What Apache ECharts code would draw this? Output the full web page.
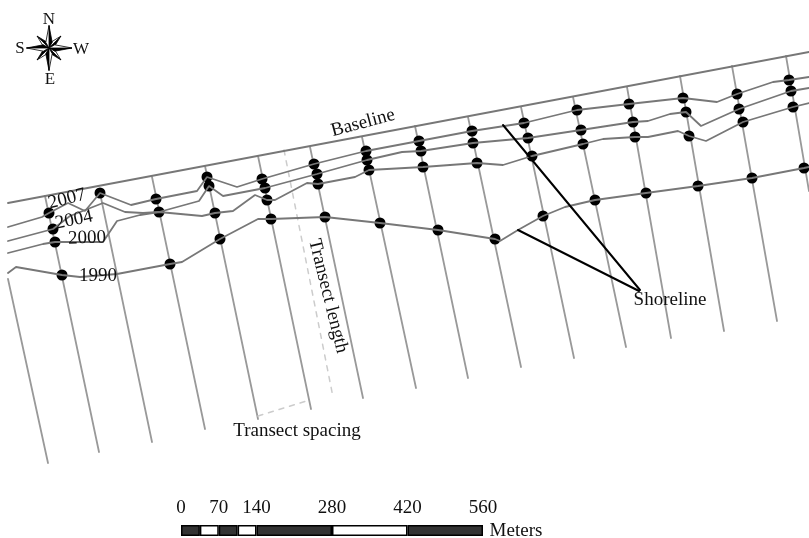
<!DOCTYPE html>
<html>
<head>
<meta charset="utf-8">
<style>html,body{margin:0;padding:0;background:#fff}#c{width:809px;height:538px}</style>
<script src="https://cdn.jsdelivr.net/npm/echarts@6/dist/echarts.min.js"></script>
</head>
<body>
<div id="c"></div>
<script>
// Map units: the sketch map is read as an 809 x 538 sheet.
const baseline = [[8,203],[809,52]];
const transects = [
  [[8,279],[48,463]],[[45,196],[99,452]],[[100,193],[152,442]],[[152,177],[205,429]],
  [[205,166],[258,419]],[[258,156],[311,409]],[[310,147],[363,398]],[[362,137],[416,388]],
  [[415,126],[468,378]],[[468,117],[521,367]],[[521,107],[574,358]],[[573,97],[626,347]],
  [[627,87],[671,338]],[[680,76],[724,331]],[[732,66],[777,321]],[[786,56],[809,191]]
];
const shore1990 = [[8,273],[16,267],[62,275],[80,277],[117,274],[170,264],[182,262],[220,239],[258,219],[271,219],[325,217],[380,223],[438,230],[495,239],[500,241],[518,230],[543,216],[565,207],[595,200],[646,193],[698,186],[752,178],[804,168],[809,167]];
const shore2000 = [[8,253],[43,244],[55,242],[103,242],[117,221],[140,215],[159,212],[202,216],[215,213],[233,211],[255,195],[267,200],[275,200],[307,183],[318,184],[355,177],[369,170],[423,167],[477,163],[503,165],[532,156],[583,144],[603,139],[635,137],[648,137],[678,131],[689,136],[706,141],[743,122],[793,107],[809,103]];
const shore2004 = [[8,241],[53,229],[70,216],[103,203],[125,212],[143,213],[159,212],[199,201],[209,186],[223,196],[265,188],[317,174],[367,160],[402,152],[421,151],[473,143],[528,138],[581,130],[633,122],[648,121],[670,114],[686,112],[701,126],[739,109],[791,91],[809,88]];
const shore2007 = [[8,227],[42,217],[49,213],[68,203],[85,211],[100,193],[131,205],[156,199],[197,191],[207,177],[237,187],[262,179],[314,164],[366,151],[419,141],[472,131],[524,123],[577,110],[629,104],[683,98],[717,102],[737,94],[773,82],[789,80],[809,77]];
const dots1990 = [[62,275],[170,264],[220,239],[271,219],[325,217],[380,223],[438,230],[495,239],[543,216],[595,200],[646,193],[698,186],[752,178],[804,168]];
const dots2000 = [[55,242],[159,212],[215,213],[267,200],[318,184],[369,170],[423,167],[477,163],[532,156],[583,144],[635,137],[689,136],[743,122],[793,107]];
const dots2004 = [[53,229],[209,186],[265,188],[317,174],[367,160],[421,151],[473,143],[528,138],[581,130],[633,122],[686,112],[739,109],[791,91]];
const dots2007 = [[49,213],[100,193],[156,199],[207,177],[262,179],[314,164],[366,151],[419,141],[472,131],[524,123],[577,110],[629,104],[683,98],[737,94],[789,80]];
const leaders = [[[503,125],[640,290]],[[518,230],[639,291]]];
const dashedLength = [[284,150],[333,397]];
const dashedSpacing = [[258,416],[310,400]];
const textLabels = [
  ['Baseline',363,123,15],['2007',67,199,14],['2004',74,220,12],['2000',87,238,2],['1990',98,276,0],
  ['Transect length',328,296,-76],['Transect spacing',297,431,0],['Shoreline',670,300,0],
  ['N',49,20,0],['S',20,49,0],['W',81,50,0],['E',50,80,0],['Meters',516,531,0]
];
const compassCentre = [49,48];
const scaleSegments = [35,35,35,35,140,140,140];
const scaleColors = ['#333','#fff','#333','#fff','#333','#fff','#333'];
const scaleTicks = [0,70,140,280,420,560];

const serif = '"Liberation Serif","Times New Roman",serif';
const lineSeries = (name,data,color,width,z,type) => ({
  name,type:'line',data,xAxisIndex:0,yAxisIndex:0,symbol:'none',silent:true,z,
  lineStyle:{color,width,type:type||'solid',cap:'round'},animation:false
});
const series = [];
transects.forEach((t,i)=>series.push(lineSeries('Transect '+i,t,'#999',1.8,2)));
series.push(lineSeries('Transect length',dashedLength,'#ccc',1.5,2,[5,6]));
series.push(lineSeries('Transect spacing',dashedSpacing,'#ccc',1.5,2,[5,6]));
[dots1990,dots2000,dots2004,dots2007].forEach((d,i)=>series.push({
  name:'Dots '+i,type:'scatter',data:d,xAxisIndex:0,yAxisIndex:0,symbol:'circle',symbolSize:11,
  itemStyle:{color:'#000',opacity:1},z:3,silent:true,animation:false
}));
series.push(lineSeries('1990',shore1990,'#777',1.8,4));
series.push(lineSeries('2000',shore2000,'#777',1.8,4));
series.push(lineSeries('2004',shore2004,'#777',1.8,4));
series.push(lineSeries('2007',shore2007,'#777',1.8,4));
series.push(lineSeries('Baseline',baseline,'#777',1.8,4));
leaders.forEach((l,i)=>series.push(lineSeries('Leader '+i,l,'#000',2,5)));

// compass rose
const arms = [];
[[-12,-12],[12,-12],[-12,12],[12,12]].forEach(v=>arms.push({v,side:1,big:false},{v,side:-1,big:false}));
[[0,-22.5],[0,22.5],[-22.5,0],[23,0]].forEach(v=>arms.push({v,side:1,big:true},{v,side:-1,big:true}));
series.push({
  name:'Compass',type:'custom',xAxisIndex:0,yAxisIndex:0,silent:true,z:6,animation:false,
  data:arms.map((a,i)=>[i]),
  renderItem(params,api){
    const a = arms[api.value(0)];
    const w = a.big?3.2:3;
    const len = Math.hypot(a.v[0],a.v[1]);
    const nx = -a.v[1]/len*w*a.side, ny = a.v[0]/len*w*a.side;
    const c = compassCentre;
    const pts = [[c[0],c[1]],[c[0]+a.v[0]*0.25+nx,c[1]+a.v[1]*0.25+ny],[c[0]+a.v[0],c[1]+a.v[1]]].map(p=>api.coord(p));
    return {type:'polygon',shape:{points:pts},style:{fill:a.side>0?'#000':'#fff',stroke:'#000',lineWidth:0.8}};
  }
});
// text
series.push({
  name:'Text',type:'scatter',xAxisIndex:0,yAxisIndex:0,symbolSize:1,itemStyle:{color:'transparent',opacity:1},z:7,silent:true,animation:false,
  data:textLabels.map(t=>({name:t[0],value:[t[1],t[2]],
    label:{show:true,position:'inside',formatter:t[0],rotate:t[3],align:'center',verticalAlign:'middle',
      color:'#111',fontFamily:serif,fontSize:['N','S','W','E'].includes(t[0])?17:19,textBorderWidth:0}}))
});
// scale bar
scaleSegments.forEach((s,i)=>series.push({
  name:'Scale '+i,type:'bar',stack:'scale',data:[s],xAxisIndex:1,yAxisIndex:1,barWidth:'100%',silent:true,animation:false,
  itemStyle:{color:scaleColors[i],borderColor:'#000',borderWidth:1.5,borderRadius:0}
}));

const chart = echarts.init(document.getElementById('c'));
chart.setOption({
  backgroundColor:'#fff',animation:false,tooltip:{show:false},
  grid:[{left:0,top:0,width:809,height:538},{left:181,top:525,width:302,height:11}],
  xAxis:[
    {gridIndex:0,type:'value',min:0,max:809,show:false},
    {gridIndex:1,type:'value',min:0,max:560,position:'top',
      axisLine:{show:false},axisTick:{show:false},splitLine:{show:false},
      axisLabel:{customValues:scaleTicks,margin:7,color:'#111',fontFamily:serif,fontSize:19,hideOverlap:false}}
  ],
  yAxis:[
    {gridIndex:0,type:'value',min:0,max:538,inverse:true,show:false},
    {gridIndex:1,type:'category',data:['scale'],show:false}
  ],
  series
});
</script>
</body>
</html>
